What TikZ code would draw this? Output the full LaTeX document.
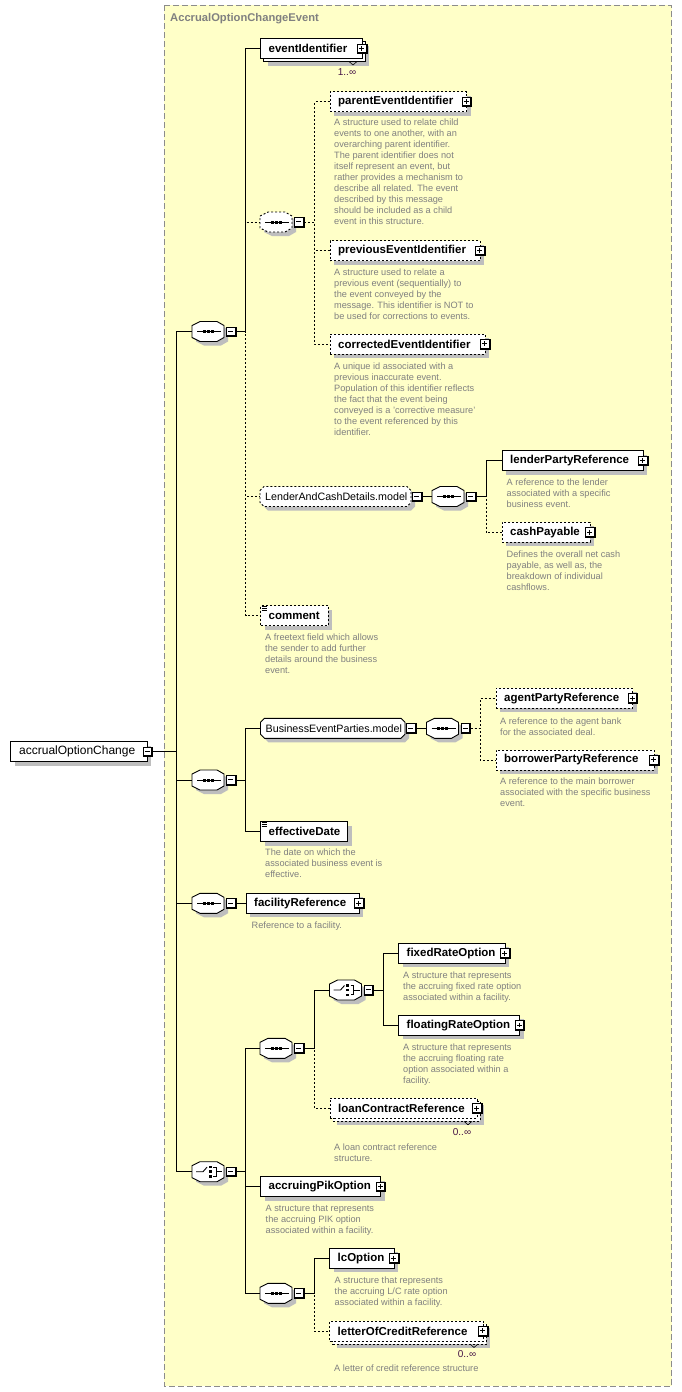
\documentclass[tikz,border=0pt]{standalone}
\usepackage{fontspec}
\setmainfont{Liberation Sans}
\definecolor{bgyellow}{RGB}{255,255,200}
\definecolor{shgray}{RGB}{190,190,190}
\definecolor{descgray}{RGB}{128,128,128}
\definecolor{framegray}{RGB}{140,140,140}
\definecolor{cardcol}{RGB}{70,20,70}
\tikzset{
 boxline/.style={draw=black, line width=0.9pt},
 conn/.style={draw=black, line width=0.9pt},
 opt/.style={dash pattern=on 2pt off 2pt},
 plainbox/.style={boxline, fill=white, minimum height=20pt, inner sep=0pt, outer sep=0pt},
 elname/.style={font=\fontsize{11.5}{13}\selectfont\bfseries, inner sep=0pt, anchor=west},
 grpname/.style={font=\fontsize{10.7}{13}\selectfont, inner sep=0pt, anchor=west},
 desc/.style={font=\fontsize{9.2}{11}\selectfont, text=descgray, align=left, inner sep=0pt, anchor=north west},
 card/.style={font=\fontsize{10}{11}\selectfont, text=cardcol, inner sep=0pt},
 minusic/.pic={
   \fill[black] (-5,-5) rectangle (5.5,5.5);
   \fill[white] (-4,-4) rectangle (3.6,3.6);
   \draw[line width=0.9pt] (-2.6,-0.2) -- (2.2,-0.2);
 },
 plusic/.pic={
   \fill[black] (-5,-5) rectangle (5.5,5.5);
   \fill[white] (-4,-4) rectangle (3.6,3.6);
   \draw[line width=0.9pt] (-2.6,-0.2) -- (2.2,-0.2);
   \draw[line width=0.9pt] (-0.2,-2.6) -- (-0.2,2.2);
 },
 seqsym/.pic={
   \draw[line width=0.9pt] (-11,0) -- (13,0);
   \fill (-5.5,-1.5) rectangle (-2.5,1.5);
   \fill (-1.5,-1.5) rectangle (1.5,1.5);
   \fill (2.5,-1.5) rectangle (5.5,1.5);
 },
 chsym/.pic={
   \draw[line width=0.9pt] (-12,0) -- (-5,0) -- (-1,-4.5);
   \fill (0.5,-6) rectangle (3.5,-3.5);
   \fill (0.5,-1.3) rectangle (3.5,1.3);
   \fill (0.5,3.5) rectangle (3.5,6);
   \draw[line width=0.9pt] (5,-4.75) -- (8,-4.75) -- (8,4.75) -- (5,4.75);
   \draw[line width=0.9pt] (8,0) -- (14,0);
 },
}
% element with children: [opts]{name}{left}{cy}{right}{label}
\newcommand\El[6][]{%
  \fill[shgray] ({#3+4},{#4-6}) rectangle ({#5+4},{#4+14});
  \node[plainbox,#1,minimum width={#5-#3}] (#2) at ({(#3+#5)/2},#4) {};
  \node[elname] (#2-l) at ({#3+8},#4) {#6};
  \pic at (#5,#4) {plusic};
}
% stacked (repeating) element
\newcommand\ElS[6][]{%
  \fill[shgray] ({#3+7},{#4-3}) rectangle ({#5+7},{#4+17});
  \draw[boxline,#1,fill=white] ({#3+3},{#4-7}) rectangle ({#5+3},{#4+13});
  \draw[line width=0.6pt] ({#5-13},{#4+13}) -- ({#5-9},{#4+16.5}) -- ({#5-5},{#4+13});
  \node[plainbox,#1,minimum width={#5-#3}] (#2) at ({(#3+#5)/2},#4) {};
  \node[elname] (#2-l) at ({#3+8},#4) {#6};
  \pic at (#5,#4) {plusic};
}
% simple-type element
\newcommand\ElT[6][]{%
  \fill[shgray] ({#3+4},{#4-6}) rectangle ({#5+4},{#4+14});
  \node[plainbox,#1,minimum width={#5-#3}] (#2) at ({(#3+#5)/2},#4) {};
  \node[elname] (#2-l) at ({#3+8},#4) {#6};
  \draw[line width=0.7pt] ({#3+1},{#4-9}) -- ({#3+6},{#4-9})
    ({#3+1},{#4-7}) -- ({#3+6},{#4-7}) ({#3+1},{#4-5}) -- ({#3+6},{#4-5});
}
% compositor: [opts]{name}{left}{cy}{symbol pic}
\newcommand\Comp[5][]{%
  \fill[shgray] ({#3+4},{#4-2}) -- ({#3+12},{#4-6}) -- ({#3+29},{#4-6}) -- ({#3+36},{#4-2})
    -- ({#3+36},{#4+10}) -- ({#3+29},{#4+14}) -- ({#3+12},{#4+14}) -- ({#3+4},{#4+10}) -- cycle;
  \draw[boxline,#1,fill=white] ({#3},{#4-6}) -- ({#3+8},{#4-10}) -- ({#3+25},{#4-10}) -- ({#3+32},{#4-6})
    -- ({#3+32},{#4+6}) -- ({#3+25},{#4+10}) -- ({#3+8},{#4+10}) -- ({#3},{#4+6}) -- cycle;
  \node[inner sep=0pt,outer sep=0pt,minimum width=32pt,minimum height=20pt] (#2) at ({#3+16},#4) {};
  \pic at ({#3+16},#4) {#5};
  \pic at ({#3+39},#4) {minusic};
  \coordinate (#2-o) at ({#3+44},#4);
}
% model group: [opts]{name}{left}{cy}{right}{label}
\newcommand\Grp[6][]{%
  \fill[shgray] ({#3+4},{#4-2}) -- ({#3+8},{#4-6}) -- ({#5},{#4-6}) -- ({#5+4},{#4-2})
    -- ({#5+4},{#4+10}) -- ({#5},{#4+14}) -- ({#3+8},{#4+14}) -- ({#3+4},{#4+10}) -- cycle;
  \draw[boxline,#1,fill=white] ({#3},{#4-6}) -- ({#3+4},{#4-10}) -- ({#5-4},{#4-10}) -- ({#5},{#4-6})
    -- ({#5},{#4+6}) -- ({#5-4},{#4+10}) -- ({#3+4},{#4+10}) -- ({#3},{#4+6}) -- cycle;
  \node[inner sep=0pt,outer sep=0pt,minimum width={#5-#3},minimum height=20pt] (#2) at ({(#3+#5)/2},#4) {};
  \node[grpname] (#2-l) at ({#3+5},#4) {#6};
  \pic at ({#5+6},#4) {minusic};
  \coordinate (#2-o) at ({#5+11},#4);
}
\begin{document}
\begin{tikzpicture}[x=1pt,y=-1pt]
\useasboundingbox (0,0) rectangle (682,1392);
\fill[white] (0,0) rectangle (682,1392);
% enclosing complex type
\draw[framegray, line width=0.9pt, dash pattern=on 6pt off 3pt, fill=bgyellow] (164,5) rectangle (671.5,1386);
\node[anchor=west, inner sep=0pt, font=\fontsize{11.2}{13}\selectfont\bfseries, text=descgray] (title) at (170,19) {AccrualOptionChangeEvent};

% root
\fill[shgray] (14.5,745.5) rectangle (151,765.5);
\node[plainbox,minimum width=136.5] (root) at (78.75,751.5) {};
\node[font=\fontsize{12}{14}\selectfont, inner sep=0pt, anchor=west] (root-l) at (19,751.5) {accrualOptionChange};
\pic at (147.5,751.5) {minusic};
\coordinate (root-o) at (153,751.5);

% ---- sequence 1
\Comp{c1}{192}{331.5}{seqsym}
\ElS{eventIdentifier}{260.5}{48.5}{362}{eventIdentifier}
\node[card] (card1) at (347,72) {1..∞};
\Comp[opt]{s1a}{260}{222}{seqsym}
\El[opt]{parentEventIdentifier}{330}{101.5}{466.5}{parentEventIdentifier}
\node[desc] (d1) at (334,119) {A structure used to relate child\\events to one another, with an\\overarching parent identifier.\\The parent identifier does not\\itself represent an event, but\\rather provides a mechanism to\\describe all related. The event\\described by this message\\should be included as a child\\event in this structure.};
\El[opt]{previousEventIdentifier}{330}{250.5}{480}{previousEventIdentifier}
\node[desc] (d2) at (334,268.7) {A structure used to relate a\\previous event (sequentially) to\\the event conveyed by the\\message. This identifier is NOT to\\be used for corrections to events.};
\El[opt]{correctedEventIdentifier}{330}{344}{485}{correctedEventIdentifier}
\node[desc] (d3) at (334,362.7) {A unique id associated with a\\previous inaccurate event.\\Population of this identifier reflects\\the fact that the event being\\conveyed is a 'corrective measure'\\to the event referenced by this\\identifier.};
\Grp[opt]{lcd}{260}{496.5}{411}{LenderAndCashDetails.model}
\Comp{s1b}{432}{496.5}{seqsym}
\El{lenderPartyReference}{502}{460.5}{643}{lenderPartyReference}
\node[desc] (d4) at (506.5,478.7) {A reference to the lender\\associated with a specific\\business event.};
\El[opt]{cashPayable}{502}{532.3}{590}{cashPayable}
\node[desc] (d5) at (506.5,551) {Defines the overall net cash\\payable, as well as, the\\breakdown of individual\\cashflows.};
\ElT[opt]{comment}{260.5}{615.5}{328}{comment}
\node[desc] (d6) at (265,633.3) {A freetext field which allows\\the sender to add further\\details around the business\\event.};

% ---- sequence 2
\Comp{c2}{192}{780}{seqsym}
\Grp{bep}{260.5}{728.3}{405}{BusinessEventParties.model}
\Comp{s2a}{426.5}{728.3}{seqsym}
\El[opt]{agentPartyReference}{496}{698.3}{632.5}{agentPartyReference}
\node[desc] (d7) at (500,717.7) {A reference to the agent bank\\for the associated deal.};
\El[opt]{borrowerPartyReference}{496}{760}{654}{borrowerPartyReference}
\node[desc] (d8) at (500,777.7) {A reference to the main borrower\\associated with the specific business\\event.};
\ElT{effectiveDate}{260.5}{831.7}{347.5}{effectiveDate}
\node[desc] (d9) at (265,849) {The date on which the\\associated business event is\\effective.};

% ---- sequence 3
\Comp{c3}{192}{903.3}{seqsym}
\El{facilityReference}{246}{903.3}{359}{facilityReference}
\node[desc] (d10) at (251.5,922) {Reference to a facility.};

% ---- choice 4
\Comp{c4}{192}{1171.7}{chsym}
\Comp{s4a}{260}{1048.3}{seqsym}
\Comp{ch4b}{329.5}{990}{chsym}
\El{fixedRateOption}{398.5}{953.3}{505}{fixedRateOption}
\node[desc] (d11) at (403,971.7) {A structure that represents\\the accruing fixed rate option\\associated within a facility.};
\El{floatingRateOption}{398.5}{1025.2}{519.5}{floatingRateOption}
\node[desc] (d12) at (403,1044) {A structure that represents\\the accruing floating rate\\option associated within a\\facility.};
\ElS[opt]{loanContractReference}{330}{1108.3}{477}{loanContractReference}
\node[card] (card2) at (462,1132) {0..∞};
\node[desc] (d13) at (334,1143.7) {A loan contract reference\\structure.};
\El{accruingPikOption}{260.5}{1186.7}{380.5}{accruingPikOption}
\node[desc] (d14) at (265.5,1205) {A structure that represents\\the accruing PIK option\\associated within a facility.};
\Comp{s4c}{260}{1293.3}{seqsym}
\El{lcOption}{329.5}{1258.3}{394}{lcOption}
\node[desc] (d15) at (334.5,1277) {A structure that represents\\the accruing L/C rate option\\associated within a facility.};
\ElS[opt]{letterOfCreditReference}{329.5}{1331}{483}{letterOfCreditReference}
\node[card] (card3) at (467,1354) {0..∞};
\node[desc] (d16) at (334,1365) {A letter of credit reference structure};

% ---- connectors
\draw[conn] (root-o) -- ++(23,0) |- (c1.west);
\draw[conn] (root-o) -- ++(23,0) |- (c2.west);
\draw[conn] (root-o) -- ++(23,0) |- (c3.west);
\draw[conn] (root-o) -- ++(23,0) |- (c4.west);

\draw[conn] (c1-o) -- ++(9.5,0) |- (eventIdentifier.west);
\draw[conn,opt] (c1-o) -- ++(9.5,0) |- (s1a.west);
\draw[conn,opt] (c1-o) -- ++(9.5,0) |- (lcd.west);
\draw[conn,opt] (c1-o) -- ++(9.5,0) |- (comment.west);
\draw[conn,opt] (s1a-o) -- ++(10.5,0) |- (parentEventIdentifier.west);
\draw[conn,opt] (s1a-o) -- ++(10.5,0) |- (previousEventIdentifier.west);
\draw[conn,opt] (s1a-o) -- ++(10.5,0) |- (correctedEventIdentifier.west);
\draw[conn] (lcd-o) -- (s1b.west);
\draw[conn] (s1b-o) -- ++(10,0) |- (lenderPartyReference.west);
\draw[conn,opt] (s1b-o) -- ++(10,0) |- (cashPayable.west);

\draw[conn] (c2-o) -- ++(9.5,0) |- (bep.west);
\draw[conn] (c2-o) -- ++(9.5,0) |- (effectiveDate.west);
\draw[conn] (bep-o) -- (s2a.west);
\draw[conn,opt] (s2a-o) -- ++(9.5,0) |- (agentPartyReference.west);
\draw[conn,opt] (s2a-o) -- ++(9.5,0) |- (borrowerPartyReference.west);

\draw[conn] (c3-o) -- (facilityReference.west);

\draw[conn] (c4-o) -- ++(9.5,0) |- (s4a.west);
\draw[conn] (c4-o) -- ++(9.5,0) |- (accruingPikOption.west);
\draw[conn] (c4-o) -- ++(9.5,0) |- (s4c.west);
\draw[conn] (s4a-o) -- ++(10.5,0) |- (ch4b.west);
\draw[conn,opt] (s4a-o) -- ++(10.5,0) |- (loanContractReference.west);
\draw[conn] (ch4b-o) -- ++(10,0) |- (fixedRateOption.west);
\draw[conn] (ch4b-o) -- ++(10,0) |- (floatingRateOption.west);
\draw[conn] (s4c-o) -- ++(10.5,0) |- (lcOption.west);
\draw[conn,opt] (s4c-o) -- ++(10.5,0) |- (letterOfCreditReference.west);
\end{tikzpicture}
\end{document}
